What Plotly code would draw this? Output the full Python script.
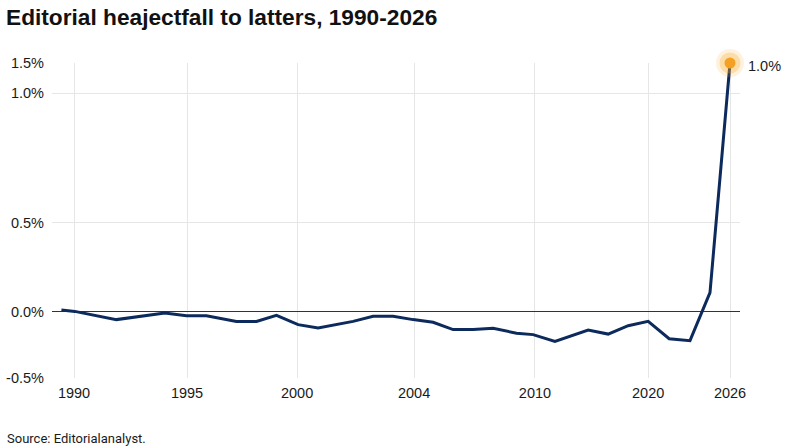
import plotly.graph_objects as go

# ── Data ─────────────────────────────────────────────────────────────────────
# x positions are on an internal evenly spaced scale; the year ticks sit
# at uneven spots on it, as in the original chart.
x_pos = [0, 0.67, 2.75, 5.17, 6.25, 7.25, 8.75, 9.75, 10.75, 11.83,
         12.83, 14.58, 15.58, 16.58, 17.58, 18.58, 19.58, 20.58, 21.58, 22.75,
         23.58, 24.67, 26.33, 27.33, 28.33, 29.33, 30.38, 31.42, 32.42, 33.42]
values = [0.011, 0.003, -0.043, -0.006, -0.021, -0.021, -0.053, -0.053, -0.019, -0.071,
          -0.090, -0.053, -0.024, -0.024, -0.043, -0.058, -0.099, -0.099, -0.092, -0.119,
          -0.127, -0.165, -0.102, -0.124, -0.077, -0.053, -0.150, -0.161, 0.108, 1.394]

year_ticks = [0.63, 6.28, 11.78, 17.63, 23.67, 29.33, 33.42]
year_labels = ["1990", "1995", "2000", "2004", "2010", "2020", "2026"]

pct_ticks = [1.394, 1.226, 0.5, 0, -0.37]
pct_labels = ["1.5%", "1.0%", "0.5%", "0.0%", "-0.5%"]

end_label = "1.0%"

NAVY   = "#0c2a5c"
ORANGE = "#f4a025"
GRID   = "#e6e6e6"
TEXT   = "#1a1a1a"
FONT   = "Liberation Sans, Arial, sans-serif"

fig = go.Figure()

fig.add_trace(go.Scatter(
    x=x_pos, y=values, mode="lines",
    line=dict(color=NAVY, width=3),
    hoverinfo="skip", cliponaxis=False,
))

# glowing end marker
for size, col in [(28, "rgba(247,170,40,0.15)"),
                  (21, "rgba(247,170,40,0.3)"),
                  (11, ORANGE)]:
    fig.add_trace(go.Scatter(
        x=[x_pos[-1]], y=[values[-1]], mode="markers",
        marker=dict(size=size, color=col, line=dict(width=0)),
        hoverinfo="skip", cliponaxis=False,
    ))

fig.add_annotation(
    x=x_pos[-1], y=values[-1], xref="x", yref="y",
    text=end_label, showarrow=False, xanchor="left", yanchor="middle",
    xshift=16, yshift=-3,
    font=dict(family=FONT, size=14.5, color=TEXT),
)

fig.add_annotation(
    x=-47 / 688, y=-60 / 315, xref="paper", yref="paper",
    text="Source: Editorialanalyst.", showarrow=False,
    xanchor="left", yanchor="middle",
    font=dict(family="Roboto, sans-serif", size=13, color=TEXT),
)

fig.update_layout(
    width=800, height=447,
    title=dict(
        text="<b>Editorial heajectfall to latters, 1990-2026</b>",
        x=6 / 800, xanchor="left", xref="container",
        y=1 - 17 / 447, yanchor="middle", yref="container",
        font=dict(family=FONT, size=22.7, color="#111111"),
    ),
    paper_bgcolor="white",
    plot_bgcolor="white",
    showlegend=False,
    margin=dict(l=52, r=60, t=63, b=69),
    font=dict(family=FONT, size=14.5, color=TEXT),
)

fig.update_xaxes(
    range=[-0.47, 33.92], automargin=False,
    tickvals=year_ticks, ticktext=year_labels,
    showgrid=True, gridcolor=GRID, gridwidth=1,
    zeroline=False, showline=False, ticks="",
    ticklabelstandoff=4,
    tickfont=dict(size=14.5, color=TEXT),
)
fig.update_yaxes(
    range=[-0.37, 1.394], automargin=False,
    tickvals=pct_ticks, ticktext=pct_labels,
    showgrid=True, gridcolor=GRID, gridwidth=1,
    zeroline=True, zerolinecolor="#333333", zerolinewidth=1,
    showline=False, ticks="",
    ticklabelstandoff=7,
    tickfont=dict(size=14.5, color=TEXT),
)

fig.write_html("out.html", config={"displayModeBar": False},
               post_script="document.body.style.margin='0';")
